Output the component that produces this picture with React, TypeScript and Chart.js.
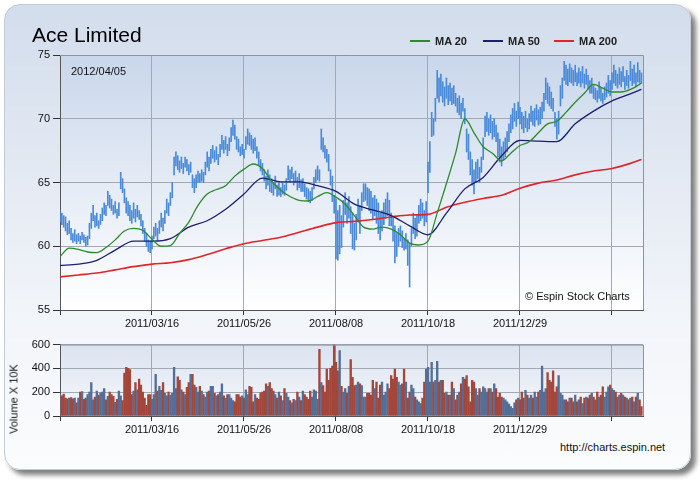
import React, { useEffect, useRef } from 'react';
import { Chart, registerables } from 'chart.js';

Chart.register(...registerables);

// ---- data ----
const xTickLabels = ['', '2011/03/16', '2011/05/26', '2011/08/08', '2011/10/18', '2011/12/29', ''];
const priceTicks = [55, 60, 65, 70, 75];
const volumeTicks = [0, 200, 400, 600];

const highs = [
  62.8, 62.6, 62.4, 62.3, 61.8, 62.0, 61.4, 61.0, 61.3, 60.9,
  61.0, 60.8, 61.1, 60.9, 60.7, 60.8, 61.8, 62.6, 63.2, 62.4,
  62.6, 62.0, 62.5, 63.0, 63.4, 63.2, 64.3, 64.0, 63.7, 63.2,
  63.5, 62.9, 63.4, 65.8, 65.3, 64.5, 63.8, 63.5, 63.2, 62.8,
  63.4, 62.9, 63.2, 62.8, 62.5, 62.0, 61.4, 61.0, 60.5, 60.4,
  60.8, 61.5, 61.8, 61.4, 62.0, 62.6, 62.2, 62.8, 63.7, 63.4,
  64.2, 65.0, 67.0, 67.4, 67.1, 66.7, 67.0, 66.5, 67.0, 66.8,
  66.4, 66.6, 65.6, 65.3, 65.6, 65.9, 65.7, 66.0, 65.8, 66.6,
  67.4, 67.0, 67.6, 67.9, 67.5, 67.8, 67.2, 68.0, 68.7, 68.3,
  68.6, 68.0, 68.5, 69.3, 69.9, 69.5, 68.6, 68.4, 67.8, 68.0,
  67.6, 68.6, 69.2, 68.9, 68.7, 68.4, 68.5, 67.8, 67.4, 66.8,
  66.5, 66.0, 65.5, 66.0, 65.6, 65.3, 65.0, 65.5, 64.8, 65.0,
  64.6, 65.0, 64.8, 65.3, 66.3, 66.0, 66.2, 65.7, 65.9, 65.4,
  65.7, 65.2, 65.3, 64.9, 64.6, 64.5, 64.3, 64.6, 65.4, 66.0,
  66.3, 66.0, 69.2, 68.5, 67.9, 67.6, 67.2, 66.0, 65.5, 64.0,
  63.7, 62.8, 63.2, 62.4, 63.6, 64.2, 63.4, 63.9, 63.1, 62.6,
  61.8, 62.5, 63.7, 63.2, 64.2, 64.9, 64.9, 64.6, 64.5, 64.3,
  63.8, 64.0, 63.7, 63.4, 62.6, 62.8, 63.4, 63.7, 64.2, 63.6,
  62.6, 62.2, 61.6, 61.0, 61.4, 61.6, 61.2, 60.6, 61.0, 60.5,
  60.2, 61.4, 62.6, 62.2, 62.4, 63.2, 63.7, 63.4, 62.8, 63.5,
  66.6, 68.2, 70.5, 70.0, 71.6, 73.8, 73.2, 73.5, 72.9, 72.5,
  73.2, 72.6, 72.8, 72.4, 72.6, 72.0, 71.6, 71.8, 71.2, 71.6,
  70.8, 69.2, 68.8, 67.4, 66.8, 66.0, 66.6, 66.8, 66.2, 67.0,
  68.5, 70.2, 70.5, 70.0, 70.3, 69.8, 70.0, 69.5, 68.9, 68.4,
  67.8, 68.2, 68.5, 69.0, 69.6, 70.3, 70.8, 71.2, 70.6, 71.3,
  70.9, 70.5, 70.2, 70.6, 70.0, 70.4, 71.0, 70.6, 70.8, 71.1,
  70.7, 70.9, 71.3, 72.0, 73.2, 72.8, 72.5, 72.1, 71.6, 70.5,
  70.0, 70.6, 72.6, 73.2, 74.5, 74.2, 73.9, 74.3, 74.0, 73.8,
  74.2, 73.6, 74.0, 73.7, 74.1, 73.5, 73.9, 73.4, 73.0, 73.2,
  72.6, 72.4, 72.2, 72.9, 72.4, 72.0, 72.5, 72.8, 73.4, 73.0,
  73.6, 74.2, 73.8, 73.5, 74.0, 73.7, 74.1, 73.3, 73.8, 73.4,
  74.5, 73.9, 74.2, 73.6, 74.4, 73.8, 73.6,
];

const lows = [
  61.9, 61.7, 61.5, 61.2, 60.9, 61.0, 60.5, 60.3, 60.4, 60.2,
  60.4, 60.2, 60.5, 60.3, 60.0, 60.1, 60.6, 61.4, 62.0, 61.5,
  61.6, 61.4, 61.7, 62.0, 62.5, 62.4, 63.2, 63.0, 62.8, 62.5,
  62.6, 62.2, 62.4, 64.5, 64.2, 63.4, 62.6, 62.4, 62.0, 61.8,
  62.2, 61.9, 62.3, 62.1, 61.6, 61.0, 60.4, 60.0, 59.6, 59.5,
  59.8, 60.6, 60.8, 60.5, 61.0, 61.5, 61.2, 61.8, 62.6, 62.4,
  63.2, 63.8, 65.6, 66.3, 66.0, 65.8, 66.1, 65.7, 66.2, 65.9,
  65.6, 65.8, 64.6, 64.2, 64.6, 65.0, 65.0, 65.1, 65.0, 65.6,
  66.2, 65.9, 66.5, 66.9, 66.6, 66.8, 66.4, 67.0, 67.6, 67.3,
  67.6, 67.1, 67.5, 68.2, 68.7, 68.4, 67.6, 67.4, 67.1, 67.2,
  66.9, 67.6, 68.0, 67.9, 67.6, 67.3, 67.5, 66.9, 66.4, 65.9,
  65.6, 65.1, 64.5, 64.8, 64.3, 64.2, 64.0, 64.5, 63.9, 64.0,
  63.9, 64.1, 64.0, 64.4, 65.2, 65.0, 65.3, 64.8, 65.0, 64.4,
  64.6, 64.3, 64.3, 63.9, 63.7, 63.5, 63.4, 63.6, 64.5, 65.0,
  65.2, 65.1, 67.6, 67.4, 66.9, 66.6, 65.9, 64.8, 63.5, 62.6,
  59.0, 58.9, 59.4, 59.9, 61.5, 62.5, 61.8, 62.2, 61.0, 59.8,
  59.7, 60.5, 61.9, 61.0, 62.8, 63.5, 63.6, 63.2, 62.8, 62.6,
  62.1, 62.4, 61.8, 61.0, 60.5, 61.2, 61.7, 62.2, 62.4, 61.6,
  61.6, 60.4, 58.7, 59.2, 60.0, 60.4, 59.9, 59.7, 59.8, 58.5,
  56.8, 60.0, 61.0, 60.6, 60.8, 61.8, 62.0, 62.2, 61.6, 61.9,
  64.2, 65.8, 68.6, 68.7, 69.8, 71.6, 71.3, 71.8, 71.3, 71.0,
  71.6, 71.1, 71.4, 71.1, 71.2, 71.0, 70.5, 70.3, 70.0, 70.6,
  69.6, 67.4, 66.8, 65.6, 64.8, 64.1, 65.0, 65.3, 65.0, 65.8,
  66.8, 68.6, 69.0, 68.7, 68.9, 68.4, 68.6, 68.2, 67.0, 66.6,
  66.3, 66.8, 67.0, 67.4, 68.2, 68.9, 69.2, 69.8, 69.4, 70.0,
  69.6, 69.2, 68.9, 69.3, 69.0, 69.2, 69.8, 69.5, 69.4, 69.9,
  69.5, 69.6, 70.0, 70.6, 71.5, 71.2, 71.0, 70.8, 70.6, 69.4,
  68.4, 68.8, 71.0, 71.6, 73.0, 72.7, 72.6, 72.9, 72.8, 72.6,
  72.9, 72.6, 72.8, 72.5, 72.8, 72.4, 72.7, 72.3, 72.0, 72.0,
  71.6, 71.5, 71.3, 71.6, 71.4, 71.2, 71.5, 71.7, 72.0, 71.8,
  72.3, 72.8, 72.6, 72.4, 72.7, 72.5, 72.9, 72.3, 72.6, 72.4,
  73.0, 72.6, 72.8, 72.5, 72.9, 72.8, 72.8,
];

const volumes = [
  180, 170, 185, 150, 145, 150, 155, 145, 150, 110,
  150, 200, 205, 140, 150, 180, 200, 280, 135, 160,
  210, 175, 195, 200, 230, 135, 165, 200, 180, 165,
  115, 140, 210, 170, 130, 360, 410, 400, 390, 180,
  210, 280, 220, 310, 260, 200, 150, 90, 180, 180,
  140, 180, 350, 210, 250, 215, 280, 190, 170, 200,
  175, 190, 410, 230, 330, 300, 220, 200, 180, 240,
  280, 350, 350, 260, 240, 200, 250, 210, 180, 160,
  200, 210, 250, 250, 190, 170, 180, 200, 270, 170,
  150, 180, 180, 150, 130, 120, 180, 180, 160, 170,
  150, 220, 180, 250, 240, 120, 180, 150, 140, 195,
  200, 210, 270, 250, 280, 230, 210, 180, 150, 200,
  170, 130, 230, 190, 160, 130, 110, 140, 130, 200,
  160, 130, 210, 180, 160, 140, 210, 160, 220, 210,
  140, 560, 280, 255, 200, 395, 300, 400, 420, 600,
  450, 380, 550, 250, 200, 230, 190, 250, 475, 325,
  255, 260, 285, 270, 255, 160, 160, 190, 190, 175,
  300, 230, 285, 150, 260, 285, 175, 200, 270, 230,
  340, 310, 395, 325, 285, 260, 270, 395, 285, 150,
  200, 260, 230, 160, 135, 120, 105, 150, 285, 395,
  410, 285, 450, 285, 300, 460, 285, 300, 300, 190,
  200, 175, 175, 285, 230, 135, 175, 200, 270, 325,
  310, 340, 245, 120, 300, 285, 230, 175, 230, 200,
  245, 230, 200, 230, 230, 200, 270, 230, 160, 190,
  160, 150, 135, 120, 100, 80, 65, 110, 135, 150,
  135, 200, 150, 215, 175, 150, 175, 150, 200, 160,
  200, 215, 420, 200, 230, 365, 300, 285, 380, 200,
  245, 340, 190, 175, 135, 135, 120, 150, 150, 120,
  175, 120, 135, 160, 105, 150, 160, 150, 175, 190,
  160, 135, 200, 160, 175, 245, 160, 200, 245, 260,
  230, 215, 200, 160, 175, 190, 175, 160, 150, 135,
  150, 160, 120, 160, 190, 135, 80,
];

const ma20Index = [
  0, 5, 10, 15, 20, 25, 30, 35, 40, 45, 50, 55, 60, 65, 70, 75, 80, 85, 90, 95,
  100, 105, 110, 115, 120, 125, 130, 135, 140, 145, 150, 155, 160, 165, 170, 175,
  180, 185, 190, 195, 200, 205, 210, 215, 220, 225, 230, 235, 240, 245, 250, 255,
  260, 265, 270, 275, 280, 285, 290, 295, 300, 305, 310, 315, 316,
];
const ma20 = [
  59.2, 59.85, 59.75, 59.55, 59.5, 59.9, 60.5, 61.2, 61.4, 61.25, 60.55, 60.0, 60.05, 61.0, 61.9, 63.2, 64.1, 64.45, 64.75, 65.5,
  66.05, 66.45, 66.1, 65.1, 64.4, 63.9, 63.6, 63.55, 63.9, 64.2, 63.85, 63.3, 62.4, 61.5, 61.35, 61.5,
  61.35, 60.9, 60.25, 60.1, 60.4, 62.6, 64.9, 67.3, 70.0, 68.9, 67.8, 67.3, 66.7, 67.3, 67.9, 68.2,
  68.9, 69.6, 69.8, 70.5, 71.3, 72.0, 72.7, 72.4, 72.1, 72.1, 72.3, 72.7, 72.8,
];

const maIndex = [
  0, 10, 20, 30, 40, 50, 60, 70, 80, 90, 100, 110, 120, 130, 140, 150, 160,
  170, 180, 190, 200, 210, 220, 230, 240, 250, 260, 270, 280, 290, 300, 310, 316,
];
const ma50 = [
  58.5, 58.6, 58.9, 59.7, 60.4, 60.4, 60.6, 61.5, 62.0, 62.9, 64.1, 65.35, 65.05, 65.05, 64.75, 64.3, 63.3,
  62.85, 62.4, 61.6, 60.9, 62.6, 64.5, 65.4, 67.1, 68.3, 68.25, 68.2, 69.6, 70.6, 71.4, 71.95, 72.3,
];
const ma200 = [
  57.6, 57.75, 57.9, 58.15, 58.4, 58.6, 58.7, 58.95, 59.35, 59.8, 60.2, 60.45, 60.7, 61.1, 61.5, 61.85, 61.95,
  62.1, 62.3, 62.45, 62.5, 63.05, 63.45, 63.75, 64.0, 64.55, 64.95, 65.2, 65.6, 65.9, 66.1, 66.5, 66.8,
];

const legendItems = [
  { label: 'MA 20', color: '#2e8a2e' },
  { label: 'MA 50', color: '#1c1f6b' },
  { label: 'MA 200', color: '#e0242a' },
];

// ---- styling constants ----
const X_MAX = 316.85;
const GRID = '#a4a9b1';
const FONT = '"Liberation Sans", Arial, sans-serif';

function areaPlugin(id: string, c0: string, c1: string) {
  return {
    id,
    beforeDraw(chart: any) {
      const { ctx, chartArea: a } = chart;
      const g = ctx.createLinearGradient(0, a.top, 0, a.bottom);
      g.addColorStop(0, c0);
      g.addColorStop(1, c1);
      ctx.save();
      ctx.fillStyle = g;
      ctx.fillRect(a.left, a.top, a.right - a.left, a.bottom - a.top);
      ctx.restore();
    },
    afterDraw(chart: any) {
      const { ctx, chartArea: a } = chart;
      ctx.save();
      ctx.strokeStyle = '#8e949c';
      ctx.lineWidth = 1;
      ctx.beginPath();
      ctx.moveTo(a.left, a.top + 0.5);
      ctx.lineTo(a.right + 0.5, a.top + 0.5);
      ctx.lineTo(a.right + 0.5, a.bottom);
      ctx.stroke();
      ctx.restore();
    },
  };
}

function xScale(height: number) {
  return {
    type: 'linear' as const,
    offset: false,
    min: 0,
    max: X_MAX,
    afterFit: (s: any) => {
      s.height = height;
    },
    ticks: {
      stepSize: 50,
      includeBounds: false,
      autoSkip: false,
      maxRotation: 0,
      padding: 2,
      color: '#111',
      font: { size: 11, family: FONT },
      callback: (v: any) => xTickLabels[Math.round(Number(v) / 50)] ?? '',
    },
    grid: { offset: false, color: GRID, tickLength: 5, tickColor: '#333' },
    border: { color: '#555' },
  };
}

export default function App() {
  const priceRef = useRef<HTMLCanvasElement>(null);
  const volRef = useRef<HTMLCanvasElement>(null);

  useEffect(() => {
    const mids = highs.map((h, i) => (h + lows[i]) / 2);
    const volColors = volumes.map((_, i) =>
      i > 0 && mids[i] < mids[i - 1] ? '#a4463a' : '#536f98'
    );

    const price = new Chart(priceRef.current as HTMLCanvasElement, {
      type: 'bar',
      data: {
        datasets: [
          {
            type: 'line',
            data: ma20Index.map((x, k) => ({ x, y: ma20[k] })),
            borderColor: legendItems[0].color,
            borderWidth: 1.3,
            pointRadius: 0,
            cubicInterpolationMode: 'monotone',
            order: 1,
          },
          {
            type: 'line',
            data: maIndex.map((x, k) => ({ x, y: ma50[k] })),
            borderColor: legendItems[1].color,
            borderWidth: 1.3,
            pointRadius: 0,
            cubicInterpolationMode: 'monotone',
            order: 2,
          },
          {
            type: 'line',
            data: maIndex.map((x, k) => ({ x, y: ma200[k] })),
            borderColor: legendItems[2].color,
            borderWidth: 1.6,
            pointRadius: 0,
            cubicInterpolationMode: 'monotone',
            order: 3,
          },
          {
            type: 'bar',
            data: highs.map((h, i) => ({ x: i, y: [lows[i], h] })) as any,
            backgroundColor: '#4a8ad9',
            barThickness: 1,
            order: 10,
          },
        ],
      },
      options: {
        responsive: false,
        devicePixelRatio: 1,
        animation: false,
        events: [],
        layout: { padding: { left: 0, right: 57, top: 55, bottom: 0 } },
        plugins: { legend: { display: false }, tooltip: { enabled: false } },
        scales: {
          x: xScale(25),
          y: {
            min: priceTicks[0],
            max: priceTicks[priceTicks.length - 1],
            afterFit: (s: any) => {
              s.width = 60;
            },
            ticks: {
              stepSize: 5,
              padding: 3,
              color: '#111',
              font: { size: 11, family: FONT },
              callback: (v: any) => (priceTicks.includes(Number(v)) ? String(v) : ''),
            },
            grid: { color: GRID, tickLength: 7, tickColor: '#333' },
            border: { color: '#555' },
          },
        },
      } as any,
      plugins: [areaPlugin('priceArea', '#c9d7eb', '#ffffff')],
    });

    const vol = new Chart(volRef.current as HTMLCanvasElement, {
      type: 'bar',
      data: {
        datasets: [
          {
            data: volumes.map((v, i) => ({ x: i, y: v })) as any,
            backgroundColor: volColors,
            barThickness: 1.7,
          },
        ],
      },
      options: {
        responsive: false,
        devicePixelRatio: 1,
        animation: false,
        events: [],
        layout: { padding: { left: 0, right: 57, top: 8, bottom: 0 } },
        plugins: { legend: { display: false }, tooltip: { enabled: false } },
        scales: {
          x: xScale(24),
          y: {
            min: volumeTicks[0],
            max: volumeTicks[volumeTicks.length - 1],
            afterFit: (s: any) => {
              s.width = 60;
            },
            ticks: {
              stepSize: 200,
              padding: 3,
              color: '#111',
              font: { size: 11, family: FONT },
            },
            grid: { color: GRID, tickLength: 7, tickColor: '#333' },
            border: { color: '#555' },
          },
        },
      } as any,
      plugins: [areaPlugin('volArea', '#dbe3f0', '#f6f8fb')],
    });

    return () => {
      price.destroy();
      vol.destroy();
    };
  }, []);

  const text = (style: React.CSSProperties, content: string) => (
    <div style={{ position: 'absolute', whiteSpace: 'nowrap', fontFamily: FONT, color: '#111', ...style }}>
      {content}
    </div>
  );

  const legendX = [
    { line: 410, text: 435 },
    { line: 483, text: 508 },
    { line: 554, text: 579 },
  ];

  return (
    <div
      style={{
        position: 'fixed',
        left: 0,
        top: 0,
        width: 700,
        height: 480,
        background: '#ffffff',
        overflow: 'hidden',
      }}
    >
      <div
        style={{
          position: 'absolute',
          left: 4,
          top: 4,
          width: 687,
          height: 466,
          borderRadius: 16,
          border: '1px solid #c3cbd6',
          boxSizing: 'border-box',
          background:
            'linear-gradient(to bottom, #d2ddec 0%, #e3e9f3 35%, #f1f4f9 65%, #fbfcfd 100%)',
          boxShadow: '5px 5px 5px rgba(0,0,0,0.5)',
        }}
      />
      <canvas
        ref={priceRef}
        width={700}
        height={335}
        style={{ position: 'absolute', left: 0, top: 0, width: 700, height: 335 }}
      />
      <canvas
        ref={volRef}
        width={700}
        height={105}
        style={{ position: 'absolute', left: 0, top: 335, width: 700, height: 105 }}
      />
      {text({ left: 32, top: 24, fontSize: 21, lineHeight: '21px', color: '#000' }, 'Ace Limited')}
      {text({ left: 71, top: 66, fontSize: 11, lineHeight: '11px' }, '2012/04/05')}
      {legendItems.map((it, k) => (
        <React.Fragment key={it.label}>
          <div
            style={{
              position: 'absolute',
              left: legendX[k].line,
              top: 40,
              width: 20,
              height: 2,
              background: it.color,
            }}
          />
          {text(
            { left: legendX[k].text, top: 36, fontSize: 11, lineHeight: '11px', fontWeight: 'bold', color: '#222' },
            it.label
          )}
        </React.Fragment>
      ))}
      {text({ left: 525, top: 291, fontSize: 11, lineHeight: '11px' }, '© Espin Stock Charts')}
      {text({ left: 560, top: 442, fontSize: 11, lineHeight: '11px' }, 'http://charts.espin.net')}
      <div
        style={{
          position: 'absolute',
          left: 14,
          top: 399,
          transform: 'translate(-50%, -50%) rotate(-90deg)',
          whiteSpace: 'nowrap',
          fontFamily: FONT,
          fontSize: 11,
          lineHeight: '11px',
          color: '#111',
        }}
      >
        Volume X 10K
      </div>
    </div>
  );
}
